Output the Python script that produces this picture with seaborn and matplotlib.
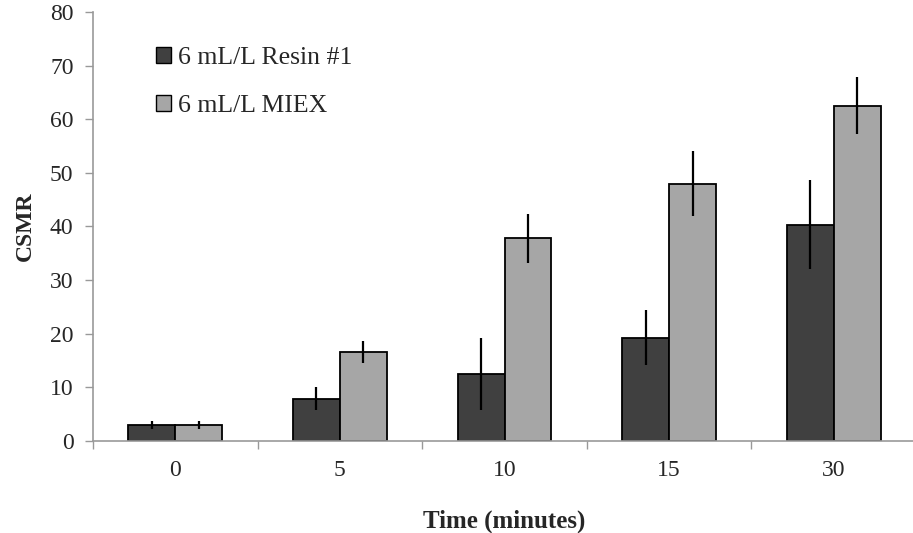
import matplotlib
matplotlib.use("Agg")
import matplotlib.pyplot as plt
import seaborn as sns
import pandas as pd
import numpy as np

times = ["0", "5", "10", "15", "30"]
series = ["6 mL/L Resin #1", "6 mL/L MIEX"]
resin_vals = [3.0, 7.9, 12.5, 19.3, 40.3]
resin_err = [0.7, 2.2, 6.8, 5.1, 8.3]
miex_vals = [3.0, 16.6, 37.8, 48.0, 62.5]
miex_err = [0.7, 2.1, 4.6, 6.1, 5.3]
colors = ["#404040", "#a6a6a6"]

df = pd.DataFrame({
    "Time": times * 2,
    "Series": [series[0]] * len(times) + [series[1]] * len(times),
    "CSMR": resin_vals + miex_vals,
})
errs = {series[0]: resin_err, series[1]: miex_err}

sns.set_theme(style="white")
plt.rcParams['font.family'] = ['Liberation Serif', 'DejaVu Serif']

fig = plt.figure(figsize=(9.13, 5.33), dpi=100)
ax = fig.add_axes([93/913, 92/533, 823/913, 429/533])

sns.barplot(data=df, x="Time", y="CSMR", hue="Series", order=times,
            hue_order=series, palette=colors, errorbar=None,
            edgecolor="black", linewidth=1.3, width=0.57, ax=ax, saturation=1)

# error bars at bar centres
for cont, s in zip(ax.containers, series):
    xs = [p.get_x() + p.get_width() / 2 for p in cont.patches]
    hs = [p.get_height() for p in cont.patches]
    ax.errorbar(xs, hs, yerr=errs[s], fmt="none", ecolor="black",
                elinewidth=1.6, capsize=0, zorder=5)

ax.set_ylim(0, 80)
ax.set_xlim(-0.5, 4.5)
ax.set_yticks(np.arange(0, 81, 10))
ax.set_xlabel("Time (minutes)", fontsize=18, fontweight="bold", labelpad=20)
ax.set_ylabel("CSMR", fontsize=17, fontweight="bold", labelpad=10)

for sp in ["top", "right"]:
    ax.spines[sp].set_visible(False)
for sp in ["left", "bottom"]:
    ax.spines[sp].set_color("#999999")
    ax.spines[sp].set_linewidth(1.2)

ax.tick_params(axis="y", which="major", direction="out", length=6, width=1,
               color="#999999", labelsize=17, pad=8, left=True)
ax.tick_params(axis="x", which="major", length=0, labelsize=17, pad=14)
ax.set_xticks(np.arange(-0.5, 5.0, 1.0), minor=True)
ax.tick_params(axis="x", which="minor", direction="out", length=6, width=1,
               color="#999999", bottom=True)

leg = ax.legend(loc="upper left", bbox_to_anchor=(156/913, 1 - 47/533),
                bbox_transform=fig.transFigure, frameon=False, fontsize=18.5,
                handlelength=0.6, handleheight=0.6, handletextpad=0.25,
                labelspacing=1.0, borderpad=0, borderaxespad=0)
for h in leg.legend_handles:
    h.set_edgecolor("black")
    h.set_linewidth(1)

fig.savefig("out.png", dpi=100)
